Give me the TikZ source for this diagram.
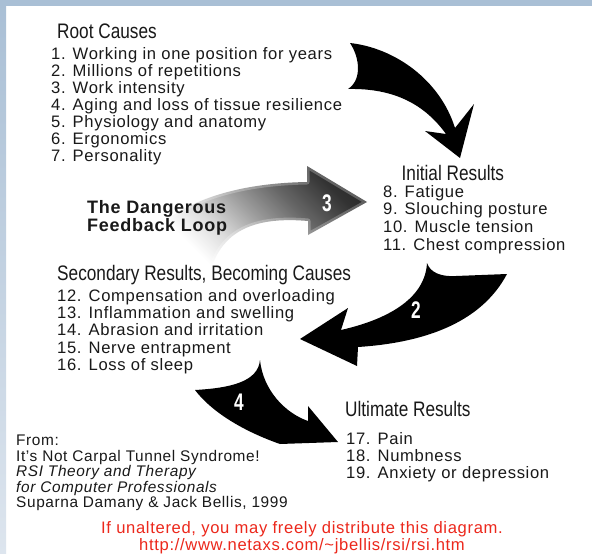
\documentclass[tikz,border=0pt]{standalone}
\usepackage{fontspec}
\setmainfont{Liberation Sans}[LetterSpace=4]
\newfontfamily\headfont{Liberation Sans}[FakeStretch=0.82]
\newfontfamily\numfont{Liberation Sans}[FakeStretch=0.72]
\usetikzlibrary{calc}
\definecolor{framebar}{RGB}{169,191,213}
\definecolor{framelow}{RGB}{221,229,238}
\definecolor{notered}{RGB}{236,40,28}
\definecolor{ink}{RGB}{25,25,25}
\pgfdeclarehorizontalshading{loopshade}{100bp}{color(0bp)=(white); color(39bp)=(white); color(47bp)=(black!14); color(56bp)=(black!38); color(65bp)=(black!60); color(75bp)=(black!80); color(86bp)=(black!88); color(100bp)=(black!90)}
\tikzset{
  item/.style={anchor=base west, inner sep=0pt, text=ink, font=\fontsize{16.6}{17}\selectfont},
  heading/.style={anchor=base west, inner sep=0pt, text=ink, font=\headfont\fontsize{21}{21}\selectfont},
  source/.style={anchor=base west, inner sep=0pt, text=ink, font=\fontsize{15.4}{16}\selectfont},
  loopnote/.style={anchor=base west, inner sep=0pt, text=ink, font=\bfseries\fontsize{18}{18}\selectfont},
  notice/.style={anchor=base, inner sep=0pt, text=notered, font=\fontsize{16.6}{17}\selectfont},
  bigarrow/.style={fill=black},
  numlabel/.style={text=white, inner sep=0pt, font=\numfont\bfseries\fontsize{24}{24}\selectfont},
}
\begin{document}
\begin{tikzpicture}[x=1pt,y=-1pt]
			\useasboundingbox (0,0) rectangle (592,554);
			\fill[white] (0,0) rectangle (592,554);
			\fill[framebar] (0,0) rectangle (592,6);
			\shade[top color=framebar, bottom color=framelow] (0,0) rectangle (6,554);

			\shade[shading=loopshade, shading angle=45]
				(115,305) .. controls (128,230) and (190,184) .. (307,182) -- (307,166) -- (367,202)
				-- (308,235) -- (308,221) .. controls (240,215) and (208,240) .. (205,305) -- cycle;
			\draw[white, opacity=0.25, line width=5pt, line join=round]
				(115,305) .. controls (128,230) and (190,184) .. (307,182) -- (307,166) -- (367,202)
				-- (308,235) -- (308,221) .. controls (240,215) and (208,240) .. (205,305);
			\fill[bigarrow] (350,43) .. controls (395,48) and (440,80) .. (455,128) -- (474,104) -- (460,158)
				-- (425,131) -- (446,134) .. controls (425,105) and (395,88) .. (348,89)
				.. controls (362,80) and (360,58) .. (350,43) -- cycle;
			\fill[bigarrow] (427,263) .. controls (430,272) and (440,277) .. (456,276) -- (507,274)
				.. controls (480,325) and (420,343) .. (358,347) -- (357,366) -- (300,339) -- (348,308)
				-- (341,330) .. controls (385,320) and (425,300) .. (427,263) -- cycle;
			\fill[bigarrow] (260,360) .. controls (263,390) and (285,413) .. (308,421) -- (308,406) -- (338,442)
				-- (280,444) .. controls (240,430) and (210,410) .. (195,390)
				.. controls (230,388) and (258,382) .. (260,360) -- cycle;
			\node[numlabel] (three) at (327,203) {3};
			\node[numlabel] (two) at (416,310) {2};
			\node[numlabel] (four) at (239,402) {4};

			\node[heading] (root) at (57,38.5) {Root Causes};
			\foreach \txt [count=\i] in {1. Working in one position for years, 2. Millions of repetitions,
				3. Work intensity, 4. Aging and loss of tissue resilience, 5. Physiology and anatomy,
				6. Ergonomics, 7. Personality}
				\node[item] (root\i) at (51,59.3+17.07*\i-17.07) {\txt};

			\node[heading] (initial) at (401.5,180.7) {Initial Results};
			\foreach \txt [count=\i] in {8. Fatigue, 9. Slouching posture, 10. Muscle tension, 11. Chest compression}
				\node[item] (initial\i) at (383,197+17.7*\i-17.7) {\txt};

			\node[loopnote] (loop1) at (87,213.3) {The Dangerous};
			\node[loopnote] (loop2) at (87,231.7) {Feedback Loop};

			\node[heading] (secondary) at (57,280) {Secondary Results, Becoming Causes};
			\foreach \txt [count=\i] in {12. Compensation and overloading, 13. Inflammation and swelling,
				14. Abrasion and irritation, 15. Nerve entrapment, 16. Loss of sleep}
				\node[item] (secondary\i) at (57,301.7+17.1*\i-17.1) {\txt};

			\node[heading] (ultimate) at (345,416) {Ultimate Results};
			\foreach \txt [count=\i] in {17. Pain, 18. Numbness, 19. Anxiety or depression}
				\node[item] (ultimate\i) at (346,444+17.1*\i-17.1) {\txt};

			\node[source] (from) at (16,445.7) {From:};
			\node[source] (book) at (16,461) {It's Not Carpal Tunnel Syndrome!};
			\node[source] (sub1) at (16,476.7) {\itshape RSI Theory and Therapy};
			\node[source] (sub2) at (16,492.3) {\itshape for Computer Professionals};
			\node[source] (authors) at (16,507.5) {Suparna Damany \& Jack Bellis, 1999};

			\node[notice] (note1) at (302,533.3) {If unaltered, you may freely distribute this diagram.};
			\node[notice] (note2) at (302,550.7) {http://www.netaxs.com/\textasciitilde jbellis/rsi/rsi.htm};
		\end{tikzpicture}
\end{document}
